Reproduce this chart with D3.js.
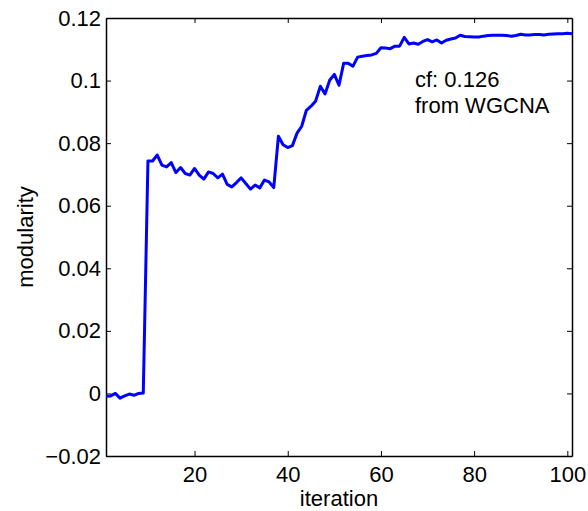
<!DOCTYPE html>
<html>
<head>
<meta charset="utf-8">
<script src="https://cdn.jsdelivr.net/npm/d3@7"></script>
<style>
  body { margin: 0; background: #fff; }
  text { font-family: "Liberation Sans", Arial, Helvetica, sans-serif; }
</style>
</head>
<body>
<script>
var width = 588;
var height = 511;
var margin = {top: 18, right: 16, bottom: 55, left: 106};
var fontSize = 22;

// modularity per iteration (1..101)
var iterations = d3.range(1, 102);
var modularity = [
  -0.0009, -0.0008, 0.0000, -0.0015, -0.0008, -0.0002, -0.0006, 0.0000, 0.0001, 0.0743,
  0.0743, 0.0762, 0.0730, 0.0724, 0.0738, 0.0706, 0.0722, 0.0703, 0.0698, 0.0719,
  0.0698, 0.0685, 0.0708, 0.0703, 0.0689, 0.0701, 0.0668, 0.0660, 0.0674, 0.0689,
  0.0671, 0.0653, 0.0666, 0.0657, 0.0682, 0.0676, 0.0658, 0.0822, 0.0795, 0.0786,
  0.0792, 0.0832, 0.0854, 0.0905, 0.0918, 0.0935, 0.0982, 0.0957, 0.1001, 0.1020,
  0.0985, 0.1055, 0.1055, 0.1046, 0.1075, 0.1078, 0.1080, 0.1082, 0.1087, 0.1105,
  0.1104, 0.1102, 0.1110, 0.1110, 0.1138, 0.1117, 0.1120, 0.1116, 0.1125, 0.1131,
  0.1124, 0.1130, 0.1120, 0.1129, 0.1133, 0.1136, 0.1145, 0.1141, 0.1140, 0.1139,
  0.1139, 0.1142, 0.1144, 0.1145, 0.1145, 0.1145, 0.1144, 0.1142, 0.1144, 0.1148,
  0.1146, 0.1146, 0.1147, 0.1147, 0.1146, 0.1148, 0.1149, 0.1150, 0.1150, 0.1151,
  0.1150
];
var xTicks = [20, 40, 60, 80, 100];
var yTicks = [-0.02, 0, 0.02, 0.04, 0.06, 0.08, 0.1, 0.12];
var yTickLabels = ["\u22120.02", "0", "0.02", "0.04", "0.06", "0.08", "0.1", "0.12"];
var noteLines = ["cf: 0.126", "from WGCNA"];

var svg = d3.select("body").append("svg")
  .attr("width", width)
  .attr("height", height);

var x = d3.scaleLinear().domain([1, 101]).range([margin.left, width - margin.right]);
var y = d3.scaleLinear().domain([-0.02, 0.12]).range([height - margin.bottom, margin.top]);

var tickLen = 5;

// bottom axis
svg.append("g")
  .attr("transform", "translate(0," + (height - margin.bottom) + ")")
  .call(d3.axisBottom(x).tickValues(xTicks).tickSize(-tickLen).tickPadding(10).tickSizeOuter(0))
  .call(function(g){ g.selectAll("text").attr("font-size", fontSize).attr("fill", "#000"); });

// top axis
svg.append("g")
  .attr("transform", "translate(0," + margin.top + ")")
  .call(d3.axisTop(x).tickValues(xTicks).tickSize(-tickLen).tickFormat("").tickSizeOuter(0));

// left axis
svg.append("g")
  .attr("transform", "translate(" + margin.left + ",0)")
  .call(d3.axisLeft(y).tickValues(yTicks).tickSize(-tickLen).tickPadding(5).tickSizeOuter(0)
    .tickFormat(function(d, i){ return yTickLabels[i]; }))
  .call(function(g){ g.selectAll("text").attr("font-size", fontSize).attr("fill", "#000"); });

// right axis
svg.append("g")
  .attr("transform", "translate(" + (width - margin.right) + ",0)")
  .call(d3.axisRight(y).tickValues(yTicks).tickSize(-tickLen).tickFormat("").tickSizeOuter(0));

svg.selectAll(".domain").attr("stroke", "#000").attr("stroke-width", 1.5);
svg.selectAll(".tick line").attr("stroke", "#000");

var line = d3.line()
  .x(function(d, i){ return x(iterations[i]); })
  .y(function(d){ return y(d); });

svg.append("path")
  .datum(modularity)
  .attr("d", line)
  .attr("fill", "none")
  .attr("stroke", "#0000ff")
  .attr("stroke-width", 3)
  .attr("stroke-linejoin", "round");

// labels
svg.append("text")
  .attr("x", (margin.left + width - margin.right) / 2)
  .attr("y", 506)
  .attr("text-anchor", "middle")
  .attr("font-size", fontSize)
  .text("iteration");

svg.append("text")
  .attr("transform", "translate(33," + ((margin.top + height - margin.bottom) / 2) + ") rotate(-90)")
  .attr("text-anchor", "middle")
  .attr("font-size", fontSize)
  .text("modularity");

svg.selectAll(".note")
  .data(noteLines)
  .enter().append("text")
  .attr("class", "note")
  .attr("x", 415)
  .attr("y", function(d, i){ return 86.5 + i * 26; })
  .attr("font-size", fontSize)
  .text(function(d){ return d; });
</script>
</body>
</html>
